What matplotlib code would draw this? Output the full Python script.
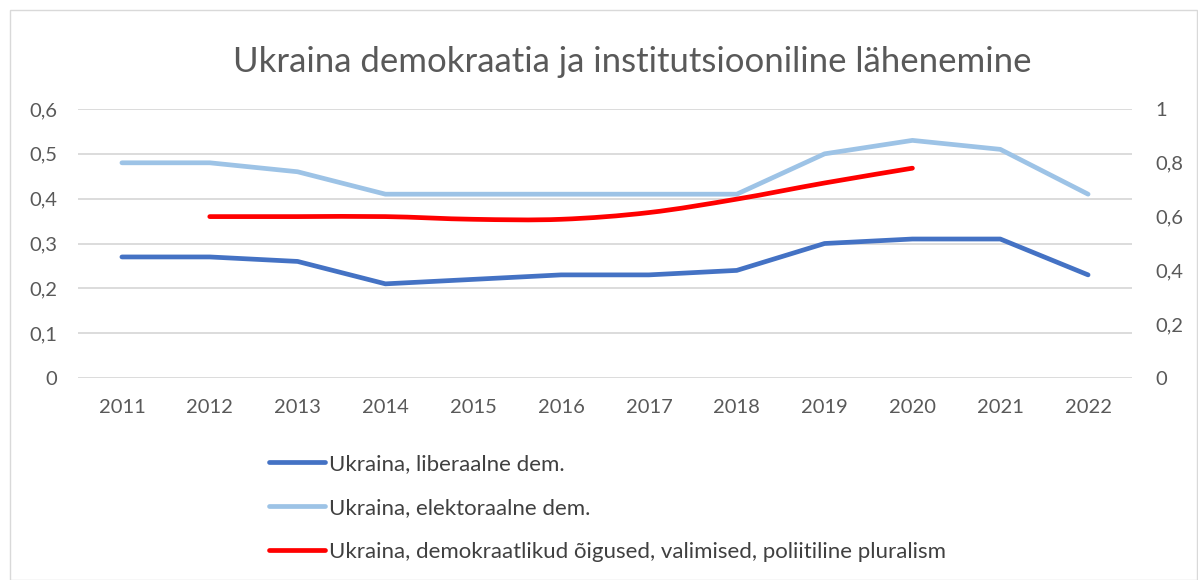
import matplotlib.pyplot as plt
from matplotlib.lines import Line2D
from matplotlib.patches import PathPatch, Rectangle
from matplotlib.path import Path
from matplotlib.ticker import FuncFormatter

plt.rcParams["font.family"] = ["Lato", "DejaVu Sans"]

years = [2011, 2012, 2013, 2014, 2015, 2016, 2017, 2018, 2019, 2020, 2021, 2022]
liberal = [0.27, 0.27, 0.26, 0.21, 0.22, 0.23, 0.23, 0.24, 0.30, 0.31, 0.31, 0.23]
electoral = [0.48, 0.48, 0.46, 0.41, 0.41, 0.41, 0.41, 0.41, 0.50, 0.53, 0.51, 0.41]
rights_years = [2012, 2013, 2014, 2015, 2016, 2017, 2018, 2019, 2020]
rights = [0.60, 0.60, 0.60, 0.59, 0.59, 0.615, 0.665, 0.725, 0.78]

labels = [
    "Ukraina, liberaalne dem.",
    "Ukraina, elektoraalne dem.",
    "Ukraina, demokraatlikud õigused, valimised, poliitiline pluralism",
]
colors = ["#4472C4", "#9DC3E6", "#FF0000"]
TEXT = "#595959"
GRID = "#D9D9D9"


def smooth_path(xs, ys):
    # Excel-style smoothed line as cubic bezier segments
    pts = list(zip(xs, ys))
    verts = [pts[0]]
    codes = [Path.MOVETO]
    n = len(pts)
    for i in range(n - 1):
        p0 = pts[max(i - 1, 0)]
        p1 = pts[i]
        p2 = pts[i + 1]
        p3 = pts[min(i + 2, n - 1)]
        c1 = (p1[0] + (p2[0] - p0[0]) / 6, p1[1] + (p2[1] - p0[1]) / 6)
        c2 = (p2[0] - (p3[0] - p1[0]) / 6, p2[1] - (p3[1] - p1[1]) / 6)
        verts += [c1, c2, p2]
        codes += [Path.CURVE4] * 3
    return Path(verts, codes)


fig = plt.figure(figsize=(11.98, 5.8), dpi=100)
ax = fig.add_axes([78 / 1198, 1 - 378 / 580, 1054 / 1198, 269 / 580])
ax2 = ax.twinx()

ax.plot(years, liberal, color=colors[0], lw=3.4, solid_capstyle="round", solid_joinstyle="round", zorder=3)
ax.plot(years, electoral, color=colors[1], lw=3.4, solid_capstyle="round", solid_joinstyle="round", zorder=3)
ax2.add_patch(PathPatch(smooth_path(rights_years, rights), fill=False, edgecolor=colors[2],
                        lw=3.4, capstyle="round", joinstyle="round", zorder=3))

ax.set_xlim(2010.5, 2022.5)
ax.set_ylim(0, 0.6)
ax2.set_ylim(0, 1)
ax.set_xticks(years)
ax.set_yticks([0, 0.1, 0.2, 0.3, 0.4, 0.5, 0.6])
ax2.set_yticks([0, 0.2, 0.4, 0.6, 0.8, 1.0])

fmt = FuncFormatter(lambda v, p: "0" if abs(v) < 1e-9 else ("1" if abs(v - 1) < 1e-9 else f"{v:.1f}".replace(".", ",")))
ax.yaxis.set_major_formatter(fmt)
ax2.yaxis.set_major_formatter(fmt)

ax.grid(axis="y", color=GRID, lw=1.3)
ax.set_axisbelow(True)
for a in (ax, ax2):
    for s in a.spines.values():
        s.set_visible(False)
ax.tick_params(axis="y", length=0, pad=15, labelsize=14.5, labelcolor=TEXT)
ax2.tick_params(axis="y", length=0, pad=17, labelsize=14.5, labelcolor=TEXT)
ax.tick_params(axis="x", length=0, pad=15, labelsize=14.5, labelcolor=TEXT)

fig.text(632 / 1198, 1 - 62 / 580, "Ukraina demokraatia ja institutsiooniline lähenemine",
         ha="center", va="center", fontsize=25, color=TEXT)

handles = [Line2D([], [], color=c, lw=3.4, solid_capstyle="round") for c in colors]
fig.legend(handles, labels, loc="upper left", bbox_to_anchor=(249 / 1198, 1 - 434 / 580),
           frameon=False, fontsize=16, labelcolor="#404040", handlelength=2.5,
           handletextpad=0.18, labelspacing=1.08)

fig.add_artist(Rectangle((10 / 1198, 0), 1187 / 1198, 1 - 10 / 580, transform=fig.transFigure,
                         fill=False, edgecolor=GRID, lw=1))

fig.savefig("out.png", dpi=100)
